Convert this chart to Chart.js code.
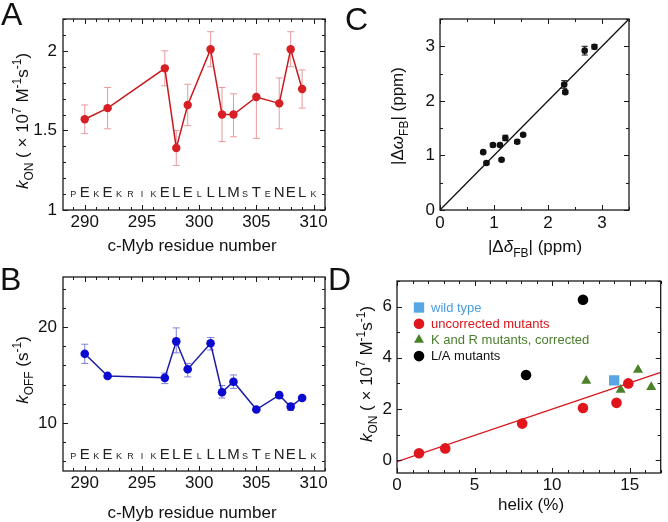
<!DOCTYPE html>
<html>
<head>
<meta charset="utf-8">
<script src="https://cdn.jsdelivr.net/npm/chart.js@4.4.1/dist/chart.umd.min.js"></script>
<style>
  body { margin: 0; background: #fff; }
  #pagina { position: relative; width: 668px; height: 522px; overflow: hidden; font-family: 'Liberation Sans', Arial, sans-serif; }
  canvas { position: absolute; }
  .letra { position: absolute; font-size: 32px; line-height: 32px; color: #111; }
</style>
</head>
<body>
<div id="pagina">
  <canvas id="graficoA" width="334" height="270" style="left:0;top:0"></canvas>
  <canvas id="graficoB" width="334" height="252" style="left:0;top:270px"></canvas>
  <canvas id="graficoC" width="334" height="270" style="left:334px;top:0"></canvas>
  <canvas id="graficoD" width="334" height="252" style="left:334px;top:270px"></canvas>
  <div class="letra" style="left:1px;top:-2px">A</div>
  <div class="letra" style="left:0px;top:263px">B</div>
  <div class="letra" style="left:345px;top:3px">C</div>
  <div class="letra" style="left:328px;top:263px">D</div>
</div>
<script>
// ---- Paneles A y B: kON / kOFF por residuo ----
const residuos = [290, 292, 297, 298, 299, 301, 302, 303, 305, 307, 308, 309];
const kon = [1.57, 1.64, 1.89, 1.39, 1.66, 2.01, 1.60, 1.60, 1.71, 1.67, 2.01, 1.76];
const konBajo = [1.48, 1.51, 1.78, 1.28, 1.53, 1.90, 1.43, 1.46, 1.45, 1.51, 1.90, 1.64];
const konAlto = [1.66, 1.77, 2.00, 1.50, 1.79, 2.12, 1.77, 1.73, 1.98, 1.83, 2.12, 1.88];
const koff = [17.2, 14.9, 14.7, 18.5, 15.6, 18.3, 13.2, 14.3, 11.4, 12.9, 11.7, 12.6];
const koffBajo = [16.2, 14.7, 14.1, 17.3, 14.8, 17.6, 12.6, 13.6, 11.2, 12.7, 11.3, 12.4];
const koffAlto = [18.2, 15.1, 15.2, 19.9, 16.2, 18.9, 13.9, 15.0, 11.6, 13.1, 12.0, 12.8];

const secuenciaResiduos = [289, 290, 291, 292, 293, 294, 295, 296, 297, 298, 299, 300, 301, 302, 303, 304, 305, 306, 307, 308, 309, 310];
const secuenciaLetras = ['P', 'E', 'K', 'E', 'K', 'R', 'I', 'K', 'E', 'L', 'E', 'L', 'L', 'L', 'M', 'S', 'T', 'E', 'N', 'E', 'L', 'K'];

const residuoEtiquetas = [290, 295, 300, 305, 310];
const konEtiquetas = [1, 1.5, 2];
const koffEtiquetas = [10, 20];

// ---- Panel C ----
const deltaDelta = [0.80, 0.86, 0.98, 1.11, 1.14, 1.21, 1.43, 1.54, 2.30, 2.32, 2.68, 2.86];
const deltaOmega = [1.06, 0.86, 1.19, 1.19, 0.92, 1.32, 1.25, 1.38, 2.30, 2.16, 2.92, 2.99];
const deltaOmegaErr = [0.02, 0.02, 0.03, 0.02, 0.02, 0.05, 0.03, 0.02, 0.07, 0.03, 0.08, 0.04];
const diagonal = [0, 3.5];
const cEtiquetas = [0, 1, 2, 3];

// ---- Panel D ----
const wtHelix = [14.0];
const wtKon = [3.12];
const sinCorregirHelix = [1.42, 3.11, 8.07, 11.99, 14.15, 14.91];
const sinCorregirKon = [0.27, 0.46, 1.43, 2.04, 2.24, 3.0];
const krHelix = [12.2, 14.42, 15.54, 16.39];
const krKon = [3.10, 2.75, 3.53, 2.86];
const laHelix = [8.32, 11.99];
const laKon = [3.33, 6.27];
const ajusteHelix = [0, 17];
const ajusteKon = [-0.06, 3.43];
const helixEtiquetas = [0, 5, 10, 15];
const dKonEtiquetas = [0, 2, 4, 6];

const FUENTE = "'Liberation Sans', Arial, Helvetica, sans-serif";

const puntos = (xs, ys) => xs.map((x, i) => ({ x: x, y: ys[i] }));

function marcas(min, max, paso) {
    const lista = [];
    for (let v = Math.ceil(min / paso - 1e-9) * paso; v <= max + 1e-9; v += paso) {
        lista.push({ value: Math.round(v * 1000) / 1000 });
    }
    return lista;
}

function eje(lado, min, max, paso, etiquetas, tam, relleno) {
    return {
        type: 'linear', min: min, max: max,
        grid: { display: false, drawTicks: false },
        border: { display: false },
        afterBuildTicks: s => { s.ticks = marcas(min, max, paso); },
        afterFit: s => {
            if (lado === 'x') { s.height = tam; s.paddingLeft = 0; s.paddingRight = 0; }
            else { s.width = tam; s.paddingTop = 0; s.paddingBottom = 0; }
        },
        ticks: {
            autoSkip: false, maxRotation: 0, padding: relleno, color: '#111',
            font: { size: 17, family: FUENTE },
            callback: v => etiquetas.includes(v) ? String(v) : ''
        }
    };
}

// texto con cursiva, subindices y superindices
function escribirRico(ctx, partes, x, y, tam, rotar) {
    ctx.save();
    ctx.translate(x, y);
    if (rotar) ctx.rotate(-Math.PI / 2);
    ctx.textBaseline = 'alphabetic';
    ctx.textAlign = 'left';
    ctx.fillStyle = '#111';
    const fuenteDe = p => `${p.i ? 'italic ' : ''}${p.sub || p.sup ? Math.round(tam * 0.68) : tam}px ${FUENTE}`;
    let total = 0;
    const anchos = partes.map(p => { ctx.font = fuenteDe(p); const w = ctx.measureText(p.t).width; total += w; return w; });
    let cx = -total / 2;
    partes.forEach((p, i) => {
        ctx.font = fuenteDe(p);
        const dy = p.sub ? tam * 0.28 : p.sup ? -tam * 0.42 : 0;
        ctx.fillText(p.t, cx, dy);
        cx += anchos[i];
    });
    ctx.restore();
}

const pluginMarco = {
    id: 'marco',
    afterDraw(chart) {
        const { ctx, chartArea: a, scales: { x, y } } = chart;
        ctx.save();
        ctx.strokeStyle = '#1a1a1a';
        ctx.lineWidth = 1;
        ctx.beginPath();
        x.ticks.forEach(t => {
            const px = Math.round(x.getPixelForValue(t.value)) + 0.5;
            const l = t.label !== '' ? 5 : 3;
            ctx.moveTo(px, a.bottom); ctx.lineTo(px, a.bottom - l);
            ctx.moveTo(px, a.top); ctx.lineTo(px, a.top + l);
        });
        y.ticks.forEach(t => {
            const py = Math.round(y.getPixelForValue(t.value)) + 0.5;
            const l = t.label !== '' ? 5 : 3;
            ctx.moveTo(a.left, py); ctx.lineTo(a.left + l, py);
            ctx.moveTo(a.right, py); ctx.lineTo(a.right - l, py);
        });
        ctx.stroke();
        ctx.lineWidth = 1.3;
        ctx.strokeRect(a.left, a.top, a.right - a.left, a.bottom - a.top);
        ctx.restore();
    }
};

function pluginErrores(xs, bajo, alto, color, tapa) {
    return {
        id: 'errores',
        beforeDatasetsDraw(chart) {
            const { ctx, scales: { x, y } } = chart;
            ctx.save();
            ctx.strokeStyle = color;
            ctx.lineWidth = 1;
            xs.forEach((xv, i) => {
                const px = x.getPixelForValue(xv);
                const y1 = y.getPixelForValue(bajo[i]);
                const y2 = y.getPixelForValue(alto[i]);
                ctx.beginPath();
                ctx.moveTo(px, y1); ctx.lineTo(px, y2);
                ctx.moveTo(px - tapa, y1); ctx.lineTo(px + tapa, y1);
                ctx.moveTo(px - tapa, y2); ctx.lineTo(px + tapa, y2);
                ctx.stroke();
            });
            ctx.restore();
        }
    };
}

function pluginSecuencia(valorBase) {
    return {
        id: 'secuencia',
        afterDatasetsDraw(chart) {
            const { ctx, scales: { x, y } } = chart;
            const py = y.getPixelForValue(valorBase);
            ctx.save();
            ctx.fillStyle = '#222';
            ctx.textAlign = 'center';
            ctx.textBaseline = 'alphabetic';
            secuenciaResiduos.forEach((r, i) => {
                const grande = residuos.includes(r);
                ctx.font = `${grande ? 15 : 9}px ${FUENTE}`;
                ctx.fillText(secuenciaLetras[i], x.getPixelForValue(r), py);
            });
            ctx.restore();
        }
    };
}

function pluginTitulos(lista) {
    return {
        id: 'titulos',
        afterDraw(chart) {
            lista.forEach(t => escribirRico(chart.ctx, t.partes, t.x, t.y, 17, t.rotar));
        }
    };
}

const tituloKon = [{ t: 'k', i: true }, { t: 'ON', sub: true }, { t: ' ( × 10' }, { t: '7', sup: true },
    { t: ' M' }, { t: '-1', sup: true }, { t: 's' }, { t: '-1', sup: true }, { t: ')' }];
const tituloKoff = [{ t: 'k', i: true }, { t: 'OFF', sub: true }, { t: ' (s' }, { t: '-1', sup: true }, { t: ')' }];
const tituloResiduo = [{ t: 'c-Myb residue number' }];

const base = {
    responsive: false,
    animation: false,
    events: [],
    plugins: { legend: { display: false }, tooltip: { enabled: false } }
};

// Panel A
new Chart(document.getElementById('graficoA'), {
    type: 'scatter',
    data: {
        datasets: [{
            data: puntos(residuos, kon),
            showLine: true,
            borderColor: '#c8191e',
            borderWidth: 1.5,
            backgroundColor: '#d71f24',
            pointRadius: 4.2,
            pointBorderWidth: 0
        }]
    },
    options: {
        ...base,
        layout: { padding: { top: 19, right: 9, left: 0, bottom: 0 } },
        scales: {
            x: eje('x', 288.1, 311, 1, residuoEtiquetas, 60, 2),
            y: eje('y', 1, 2.2, 0.1, konEtiquetas, 63, 6)
        }
    },
    plugins: [pluginMarco, pluginErrores(residuos, konBajo, konAlto, '#e99a9c', 3.5), pluginSecuencia(1.084),
        pluginTitulos([{ partes: tituloResiduo, x: 192, y: 251 }, { partes: tituloKon, x: 28, y: 121, rotar: true }])]
});

// Panel B
new Chart(document.getElementById('graficoB'), {
    type: 'scatter',
    data: {
        datasets: [{
            data: puntos(residuos, koff),
            showLine: true,
            borderColor: '#1c1ca8',
            borderWidth: 1.5,
            backgroundColor: '#0a0ad0',
            pointRadius: 4.3,
            pointBorderWidth: 0
        }]
    },
    options: {
        ...base,
        layout: { padding: { top: 7, right: 9, left: 0, bottom: 0 } },
        scales: {
            x: eje('x', 288.1, 311, 1, residuoEtiquetas, 51, 2),
            y: eje('y', 5, 25.2, 2, koffEtiquetas, 63, 6)
        }
    },
    plugins: [pluginMarco, pluginErrores(residuos, koffBajo, koffAlto, '#7f80dc', 3.5), pluginSecuencia(6.27),
        pluginTitulos([{ partes: tituloResiduo, x: 192, y: 248 }, { partes: tituloKoff, x: 28, y: 100, rotar: true }])]
});

// Panel C
new Chart(document.getElementById('graficoC'), {
    type: 'scatter',
    data: {
        datasets: [{
            data: puntos(deltaDelta, deltaOmega),
            backgroundColor: '#111',
            pointRadius: 3.3,
            pointBorderWidth: 0
        }, {
            data: puntos(diagonal, diagonal),
            showLine: true,
            borderColor: '#111',
            borderWidth: 1.3,
            pointRadius: 0
        }]
    },
    options: {
        ...base,
        layout: { padding: { top: 19, right: 39, left: 0, bottom: 0 } },
        scales: {
            x: eje('x', 0, 3.5, 0.5, cEtiquetas, 60, 3),
            y: eje('y', 0, 3.5, 0.5, cEtiquetas, 106, 5)
        }
    },
    plugins: [pluginMarco,
        pluginErrores(deltaDelta, deltaOmega.map((v, i) => v - deltaOmegaErr[i]), deltaOmega.map((v, i) => v + deltaOmegaErr[i]), '#111', 3),
        pluginTitulos([
            { partes: [{ t: '|Δ' }, { t: 'δ', i: true }, { t: 'FB', sub: true }, { t: '| (ppm)' }], x: 201, y: 252 },
            { partes: [{ t: '|Δ' }, { t: 'ω', i: true }, { t: 'FB', sub: true }, { t: '| (ppm)' }], x: 69, y: 116, rotar: true }
        ])]
});

// Panel D
const leyendaD = {
    id: 'leyendaD',
    afterDraw(chart) {
        const ctx = chart.ctx;
        ctx.save();
        ctx.font = `13px ${FUENTE}`;
        ctx.textBaseline = 'middle';
        ctx.textAlign = 'left';
        chart.data.datasets.filter(ds => ds.label).forEach((ds, i) => {
            const y0 = 37.5 + i * 16.2;
            ctx.fillStyle = ds.backgroundColor;
            Chart.helpers.drawPoint(ctx, { pointStyle: ds.pointStyle, radius: ds.pointRadius, borderWidth: 0, rotation: 0 }, 85, y0);
            ctx.fillStyle = ds.colorTexto;
            ctx.fillText(ds.label, 97, y0 + 0.5);
        });
        ctx.restore();
    }
};

new Chart(document.getElementById('graficoD'), {
    type: 'scatter',
    data: {
        datasets: [{
            label: 'wild type',
            data: puntos(wtHelix, wtKon),
            pointStyle: 'rect',
            backgroundColor: '#58a6e4',
            colorTexto: '#4a9ddc',
            pointRadius: 7.3,
            pointBorderWidth: 0
        }, {
            label: 'uncorrected mutants',
            data: puntos(sinCorregirHelix, sinCorregirKon),
            pointStyle: 'circle',
            backgroundColor: '#e0161c',
            colorTexto: '#d8161c',
            pointRadius: 5.3,
            pointBorderWidth: 0
        }, {
            label: 'K and R mutants, corrected',
            data: puntos(krHelix, krKon),
            pointStyle: 'triangle',
            backgroundColor: '#4a8229',
            colorTexto: '#4a7d2b',
            pointRadius: 5.8,
            pointBorderWidth: 0
        }, {
            label: 'L/A mutants',
            data: puntos(laHelix, laKon),
            pointStyle: 'circle',
            backgroundColor: '#000',
            colorTexto: '#111',
            pointRadius: 5.3,
            pointBorderWidth: 0
        }, {
            data: puntos(ajusteHelix, ajusteKon),
            showLine: true,
            borderColor: '#d8161c',
            borderWidth: 1.3,
            pointRadius: 0
        }]
    },
    options: {
        ...base,
        layout: { padding: { top: 11, right: 3.5, left: 0, bottom: 0 } },
        scales: {
            x: eje('x', 0, 17, 1, helixEtiquetas, 49, 2),
            y: eje('y', -0.5, 7, 1, dKonEtiquetas, 63, 5)
        }
    },
    plugins: [pluginMarco, leyendaD,
        pluginTitulos([{ partes: [{ t: 'helix (%)' }], x: 197, y: 240 }, { partes: tituloKon, x: 38, y: 104, rotar: true }])]
});
</script>
</body>
</html>
